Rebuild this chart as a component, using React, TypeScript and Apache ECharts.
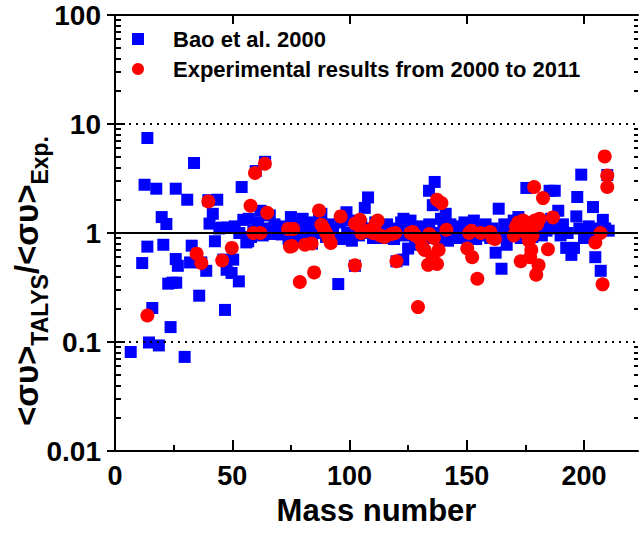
import React, { useEffect, useRef } from "react";
import * as echarts from "echarts";

const seriesNames = ["Bao et al. 2000", "Experimental results from 2000 to 2011"];

// [mass number, <σv>TALYS/<σv>Exp.]
const baoPoints: number[][] = [
  [6.7, 0.081], [11.6, 0.53], [12.6, 2.77], [13.8, 7.44], [13.8, 0.75], [14.5, 0.099], [15.9, 0.205],
  [17.6, 2.55], [18.7, 0.093], [19.9, 1.4], [20.6, 0.78], [21.9, 1.21], [22.7, 0.343], [23.7, 0.137],
  [24.5, 0.35], [25.9, 2.55], [25.9, 0.577], [26.1, 0.35], [26.8, 0.5], [29.7, 0.073], [30.8, 2.02],
  [32, 0.537], [32.7, 0.765], [33.7, 4.39], [35.9, 0.266], [36.8, 0.537], [38.9, 0.45], [39.8, 2.0],
  [40.3, 1.22], [41.7, 1.5], [42.6, 0.84], [43.6, 2.02], [44.5, 1.1], [45.5, 1.12], [46.2, 0.57],
  [46.9, 0.197], [47.6, 0.46], [48, 1.12], [49.7, 0.43], [50.4, 0.57], [51, 1.15], [52.8, 0.36],
  [53, 1.0], [54, 2.64], [54.7, 1.32], [56, 0.82], [56.8, 0.84], [57, 1.35], [58, 0.92], [59, 1.05],
  [60, 3.7], [61, 1.25], [62, 1.6], [63, 0.95], [64, 4.5], [65, 1.1], [66, 1.45], [67, 0.98],
  [68, 1.2], [69, 1.05], [70, 1.15], [71, 0.97], [72, 1.1], [73, 1.0], [74, 0.88], [75, 1.4],
  [76, 1.05], [77, 0.9], [78, 1.2], [79, 0.85], [80, 1.35], [81, 1.1], [82, 0.95], [83, 1.25],
  [84, 0.8], [85, 1.15], [86, 1.0], [87, 1.35], [88, 1.5], [89, 1.1], [90, 0.92], [91, 1.2],
  [92, 0.85], [93, 1.05], [94, 0.9], [95.2, 0.34], [96, 1.25], [97, 0.88], [98.7, 1.55], [99, 1.0],
  [100, 1.3], [101, 0.85], [102.3, 0.5], [103, 1.15], [104, 0.95], [105, 1.2], [106.5, 1.7],
  [107, 1.0], [107.9, 2.12], [109, 1.1], [110, 0.9], [111, 1.25], [112, 1.05], [113, 0.95],
  [114, 1.15], [115, 0.9], [116, 1.2], [117, 1.0], [118, 1.1], [119, 0.88], [120, 0.55], [121, 1.05],
  [122, 1.25], [122.9, 0.57], [123, 1.35], [124, 0.95], [125, 0.72], [126, 1.3], [127, 1.1],
  [128, 0.78], [129, 1.0], [130, 1.15], [131, 0.85], [132, 1.05], [133.9, 2.44], [134, 1.2],
  [135, 0.9], [136.3, 2.94], [135.5, 1.8], [137, 1.0], [138, 0.88], [139, 1.35], [140, 1.1],
  [141, 1.5], [142, 0.85], [143, 1.2], [144, 0.95], [145, 1.05], [146, 0.9], [147, 1.15], [148, 1.0],
  [149, 1.25], [150, 0.92], [151, 1.1], [152, 1.0], [153, 1.3], [154, 0.88], [155, 1.15], [156, 1.0],
  [157, 0.95], [158, 1.2], [159, 1.05], [160, 0.9], [161, 1.1], [162.3, 0.66], [163.6, 1.67],
  [164.8, 0.47], [165, 1.0], [166, 1.2], [167, 0.78], [168, 1.1], [169, 0.95], [170, 1.3],
  [171, 1.05], [172, 1.4], [173, 0.9], [174, 1.15], [175.4, 2.59], [176, 1.0], [177, 1.25],
  [178, 0.92], [179, 1.1], [180, 1.0], [181, 1.3], [182, 0.95], [183, 1.15], [184, 1.05],
  [185.3, 2.44], [186, 1.35], [187.5, 2.44], [188, 1.1], [189, 1.6], [190, 0.95], [191, 1.2],
  [192.4, 0.73], [193, 1.0], [194.6, 0.63], [195.7, 0.73], [196.7, 1.42], [197.1, 2.14], [198, 1.1],
  [198.8, 3.43], [200, 0.9], [201, 1.05], [202, 1.15], [203, 1.0], [203.8, 1.73], [204.8, 0.6],
  [206, 1.1], [207.1, 0.45], [208, 1.32], [209, 1.1], [209.9, 3.4], [210.5, 1.05],
];

const expPoints: number[][] = [
  [13.8, 0.175], [34.8, 0.646], [36.8, 0.53], [39.8, 1.95], [45.7, 0.56], [49.8, 0.73], [57.8, 1.78],
  [59, 1.0], [59.7, 3.55], [62, 1.0], [63.9, 4.32], [64.9, 1.53], [73.8, 1.09], [74.6, 0.75],
  [75.5, 0.76], [76, 1.09], [78.8, 0.355], [81, 0.78], [83.8, 0.8], [84.9, 0.435], [87, 1.61],
  [88, 1.19], [89, 1.1], [90, 1.0], [91, 0.9], [92, 0.81], [96.2, 1.42], [102.3, 0.505],
  [102.3, 1.22], [104.4, 1.32], [105, 1.0], [108, 1.05], [110, 1.0], [111, 1.2], [112, 1.3],
  [113, 0.95], [115, 0.92], [118, 0.98], [120, 0.55], [119.5, 1.0], [126, 1.0], [127, 1.02],
  [128, 0.95], [129.2, 0.209], [130, 0.88], [131, 0.75], [132, 0.7], [133.5, 0.51], [134, 0.98],
  [135.4, 0.6], [136, 0.9], [137.3, 0.52], [137.3, 2.02], [138, 0.7], [139.2, 1.88], [141.3, 1.07],
  [150.2, 0.72], [151, 1.0], [152, 1.05], [152.3, 0.6], [154.5, 0.38], [156, 1.0], [160, 1.02],
  [161, 0.9], [162, 0.88], [170, 0.95], [171, 1.15], [172, 1.25], [173, 0.55], [174, 1.3],
  [175, 1.0], [176, 1.2], [176.5, 0.85], [177, 0.6], [177.5, 0.7], [178, 0.95], [178.7, 2.64],
  [179, 1.3], [179.6, 0.415], [180, 1.2], [180.6, 0.505], [181, 1.35], [182.5, 2.09], [184.6, 0.71],
  [186.7, 1.39], [204.8, 0.82], [207, 1.0], [207.9, 0.338], [208.8, 5.04], [209.9, 3.37], [209.9, 2.64],
];

const xMajorTicks = [0, 50, 100, 150, 200];
const xMinorTicks = [25, 75, 125, 175];
const yMajorTicks = [0.01, 0.1, 1, 10, 100];
const yMinorTicks: number[] = [
  0.02, 0.03, 0.04, 0.05, 0.06, 0.07, 0.08, 0.09,
  0.2, 0.3, 0.4, 0.5, 0.6, 0.7, 0.8, 0.9,
  2, 3, 4, 5, 6, 7, 8, 9,
  20, 30, 40, 50, 60, 70, 80, 90,
];
const refLines = [
  { value: 10, kind: "dotted" },
  { value: 1, kind: "solid" },
  { value: 0.1, kind: "dotted" },
];

const FONT = "'Liberation Sans', Arial, Helvetica, sans-serif";

export default function App() {
  const ref = useRef<HTMLDivElement>(null);
  useEffect(() => {
    if (!ref.current) return;
    const chart = echarts.init(ref.current, null, { renderer: "svg" });
    const black = "#000";
    const baseLog = { type: "log", logBase: 10, min: 0.01, max: 100, gridIndex: 0 };
    const hiddenLabel = { show: false };
    const noSplit = { show: false };
    const option: any = {
      animation: false,
      backgroundColor: "#fff",
      grid: { left: 115, right: 5, top: 15, bottom: 82, containLabel: false, outerBoundsMode: "none" },
      legend: {
        data: seriesNames,
        orient: "vertical",
        left: 132,
        top: 28,
        padding: 0,
        itemGap: 8,
        itemWidth: 12,
        itemHeight: 12,
        selectedMode: false,
        textStyle: { fontFamily: FONT, fontSize: 22, fontWeight: "bold", color: black, lineHeight: 22, padding: [0, 0, 0, 24] },
      },
      xAxis: [
        {
          type: "value", position: "bottom", min: 0, max: 223,
          name: "Mass number", nameLocation: "middle", nameGap: 44,
          nameTextStyle: { fontFamily: FONT, fontSize: 31, fontWeight: "bold", color: black },
          axisLine: { show: true, lineStyle: { color: black, width: 2 } },
          axisTick: { show: true, inside: true, length: 11, customValues: xMajorTicks, lineStyle: { color: black, width: 2 } },
          axisLabel: { show: true, customValues: xMajorTicks, margin: 11, fontFamily: FONT, fontSize: 27, fontWeight: "bold", color: black },
          splitLine: noSplit,
        },
        {
          type: "value", position: "bottom", min: 0, max: 223,
          axisLine: { show: false },
          axisTick: { show: true, inside: true, length: 6, customValues: xMinorTicks, lineStyle: { color: black, width: 2 } },
          axisLabel: hiddenLabel, splitLine: noSplit,
        },
        {
          type: "value", position: "top", min: 0, max: 223,
          axisLine: { show: true, lineStyle: { color: black, width: 2 } },
          axisTick: { show: true, inside: true, length: 9, customValues: [50, 100, 150, 200], lineStyle: { color: black, width: 2 } },
          axisLabel: hiddenLabel, splitLine: noSplit,
        },
      ],
      yAxis: [
        {
          ...baseLog, position: "left",
          axisLine: { show: true, lineStyle: { color: black, width: 2 } },
          axisTick: { show: true, inside: true, length: 10, customValues: yMajorTicks, lineStyle: { color: black, width: 2 } },
          axisLabel: {
            show: true, customValues: yMajorTicks, margin: 14, fontFamily: FONT, fontSize: 28, fontWeight: "bold", color: black,
            formatter: (v: number) => String(v),
          },
          splitLine: noSplit,
        },
        {
          ...baseLog, position: "left",
          axisLine: { show: false },
          axisTick: { show: true, inside: true, length: 6, customValues: yMinorTicks, lineStyle: { color: black, width: 2 } },
          axisLabel: hiddenLabel, splitLine: noSplit,
        },
        {
          ...baseLog, position: "right",
          axisLine: { show: true, lineStyle: { color: black, width: 2 } },
          axisTick: { show: true, inside: true, length: 8, customValues: yMajorTicks, lineStyle: { color: black, width: 2 } },
          axisLabel: hiddenLabel, splitLine: noSplit,
        },
        {
          ...baseLog, position: "right",
          axisLine: { show: false },
          axisTick: { show: true, inside: true, length: 4, customValues: yMinorTicks, lineStyle: { color: black, width: 2 } },
          axisLabel: hiddenLabel, splitLine: noSplit,
        },
      ],
      series: [
        {
          name: seriesNames[0], type: "scatter", xAxisIndex: 0, yAxisIndex: 0,
          symbol: "rect", symbolSize: 12, itemStyle: { color: "#0000ff", opacity: 1 }, data: baoPoints, z: 2,
        },
        {
          name: seriesNames[1], type: "scatter", xAxisIndex: 0, yAxisIndex: 0,
          symbol: "circle", symbolSize: 14, itemStyle: { color: "#ff0000", opacity: 1 }, data: expPoints, z: 3,
        },
        {
          name: "ref", type: "scatter", xAxisIndex: 0, yAxisIndex: 0, data: [], z: 4, silent: true,
          markLine: {
            silent: true, symbol: "none", label: { show: false }, animation: false,
            data: refLines.map((r) => ({
              yAxis: r.value,
              lineStyle: r.kind === "solid"
                ? { color: black, width: 2, type: "solid", opacity: 1 }
                : { color: black, width: 2, type: [2, 5], opacity: 1 },
            })),
          },
        },
      ],
      graphic: [
        {
          type: "text", x: 27, y: 281, rotation: Math.PI / 2,
          style: {
            text: "{m|<συ>}{s|TALYS}{m|/<συ>}{s|Exp.}",
            align: "center", verticalAlign: "middle", textAlign: "center", textVerticalAlign: "middle",
            fill: black,
            rich: {
              m: { fontFamily: FONT, fontSize: 33, fontWeight: "bold", fill: black, verticalAlign: "top", lineHeight: 34 },
              s: { fontFamily: FONT, fontSize: 23, fontWeight: "bold", fill: black, verticalAlign: "top", lineHeight: 24, padding: [18, 0, 0, 0] },
            },
          },
        },
      ],
    };
    chart.setOption(option);
    return () => chart.dispose();
  }, []);
  return <div ref={ref} style={{ position: "fixed", left: 0, top: 0, width: 643, height: 533 }} />;
}
